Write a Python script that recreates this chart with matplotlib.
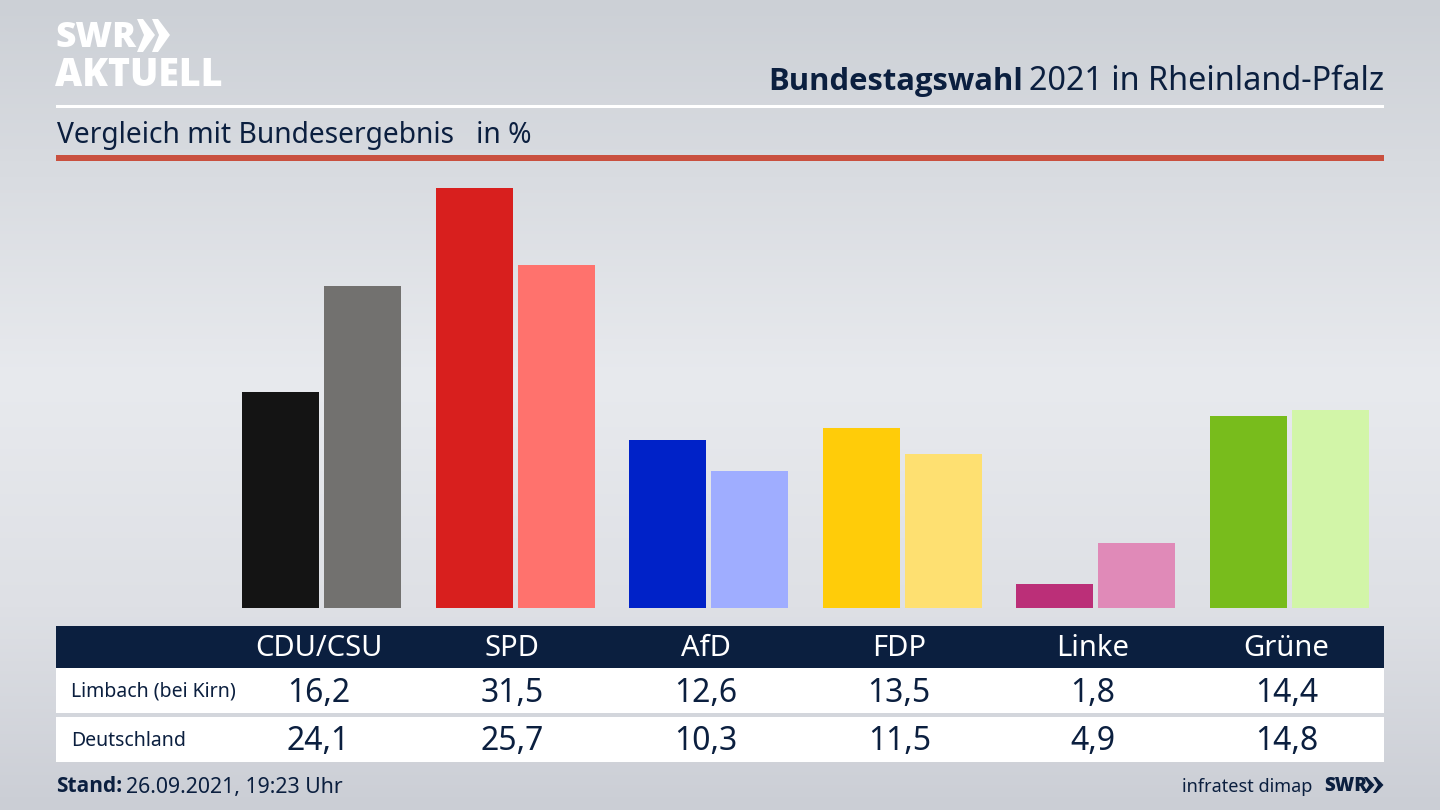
import numpy as np
import matplotlib
matplotlib.use("Agg")
import matplotlib.pyplot as plt
from matplotlib.colors import LinearSegmentedColormap
from matplotlib.patches import Rectangle, Polygon

parties = ["CDU/CSU", "SPD", "AfD", "FDP", "Linke", "Grüne"]
limbach = [16.2, 31.5, 12.6, 13.5, 1.8, 14.4]
deutschland = [24.1, 25.7, 10.3, 11.5, 4.9, 14.8]
colors_local = ["#141414", "#d81f1e", "#0022c8", "#ffcc09", "#bb2f78", "#78bc1c"]
colors_national = ["#72716f", "#ff726d", "#9fadff", "#fee071", "#e08ab8", "#d2f5a8"]
row_names = ["Limbach (bei Kirn)", "Deutschland"]

NAVY = "#0b1f3f"
FONT = "Noto Sans"
BOLD = "Open Sans"
plt.rcParams["font.family"] = [FONT, "DejaVu Sans"]

fig = plt.figure(figsize=(14.4, 8.1), dpi=100)
W, H = 1440, 810

# pixel-space canvas
bg = fig.add_axes([0, 0, 1, 1])
bg.set_xlim(0, W)
bg.set_ylim(H, 0)
bg.axis("off")
cmap = LinearSegmentedColormap.from_list(
    "bg", [(0, "#ccd0d6"), (0.2, "#d8dbe0"), (0.47, "#e8eaee"), (0.75, "#dee0e5"), (1, "#cbced5")]
)
bg.imshow(np.linspace(0, 1, 256).reshape(-1, 1), cmap=cmap, extent=[0, W, H, 0], aspect="auto", zorder=0)

# rules
bg.add_patch(Rectangle((56, 104.5), 1328, 3, color="white", lw=0, zorder=1))
bg.add_patch(Rectangle((56, 155), 1328, 5.5, color="#c9503f", lw=0, zorder=1))

# logo
bg.text(55, 38, "SWR", color="white", fontsize=25.5, fontweight="black", family=BOLD,
        va="center", ha="left", zorder=2)
for x0 in (137, 152):
    bg.add_patch(Polygon([(x0, 19), (x0 + 6, 19), (x0 + 18, 35), (x0 + 6, 52), (x0, 52), (x0 + 7, 35)],
                         closed=True, color="white", lw=0, zorder=2))
bg.text(55, 75.5, "AKTUELL", color="white", fontsize=27, fontweight="black", family=BOLD,
        va="center", ha="left", zorder=2)

# title
bg.text(768, 82, "Bundestagswahl", color=NAVY, fontsize=22.3, fontweight="bold", family=BOLD,
        va="center", ha="left", zorder=2)
bg.text(1384, 82, "2021 in Rheinland-Pfalz", color=NAVY, fontsize=23.3, va="center", ha="right", zorder=2)
bg.text(57, 135, "Vergleich mit Bundesergebnis   in %", color=NAVY, fontsize=20.3, va="center", ha="left", zorder=2)

# bars
BASE_PX, TOP_PX, TOP_VAL = 608, 187.5, 31.5
ax = fig.add_axes([0, 1 - BASE_PX / H, 1, (BASE_PX - TOP_PX) / H])
ax.patch.set_alpha(0)
ax.axis("off")
ax.set_ylim(0, TOP_VAL)
CENTER0, STEP = 321.5, 193.6
ax.set_xlim((0 - CENTER0) / STEP, (W - CENTER0) / STEP)
x = np.arange(len(parties))
w, off = 77 / STEP, 41 / STEP
ax.bar(x - off, limbach, width=w, color=colors_local, lw=0)
ax.bar(x + off, deutschland, width=w, color=colors_national, lw=0)

# table
bg.add_patch(Rectangle((56, 626), 1328, 42, color=NAVY, lw=0, zorder=3))
bg.add_patch(Rectangle((56, 668), 1328, 45, color="white", lw=0, zorder=3))
bg.add_patch(Rectangle((56, 717), 1328, 45, color="white", lw=0, zorder=3))
centers = CENTER0 - 3 + STEP * x
for cx, name, a, b in zip(centers, parties, limbach, deutschland):
    bg.text(cx, 649, name, color="white", fontsize=21, ha="center", va="center", zorder=4)
    bg.text(cx, 693, f"{a:.1f}".replace(".", ","), color=NAVY, fontsize=23, ha="center", va="center", zorder=4)
    bg.text(cx, 742, f"{b:.1f}".replace(".", ","), color=NAVY, fontsize=23, ha="center", va="center", zorder=4)
for yy, nm in zip((692, 741), row_names):
    bg.text(71, yy, nm, color=NAVY, fontsize=14, ha="left", va="center", zorder=4)

# footer
bg.text(56, 787, "Stand:", color=NAVY, fontsize=15, fontweight="bold", family=BOLD,
        ha="left", va="center", zorder=4)
bg.text(126, 787, "26.09.2021, 19:23 Uhr", color=NAVY, fontsize=15.3, ha="left", va="center", zorder=4)
bg.text(1312, 787, "infratest dimap", color=NAVY, fontsize=13, ha="right", va="center", zorder=4)
bg.text(1324, 786, "SWR", color=NAVY, fontsize=13.5, fontweight="black", family=BOLD,
        ha="left", va="center", zorder=4)
for x0 in (1364, 1373):
    bg.add_patch(Polygon([(x0, 777), (x0 + 3, 777), (x0 + 10.5, 785), (x0 + 3, 793), (x0, 793), (x0 + 5, 785)],
                         closed=True, color=NAVY, lw=0, zorder=4))

fig.savefig("out.png", dpi=100)
